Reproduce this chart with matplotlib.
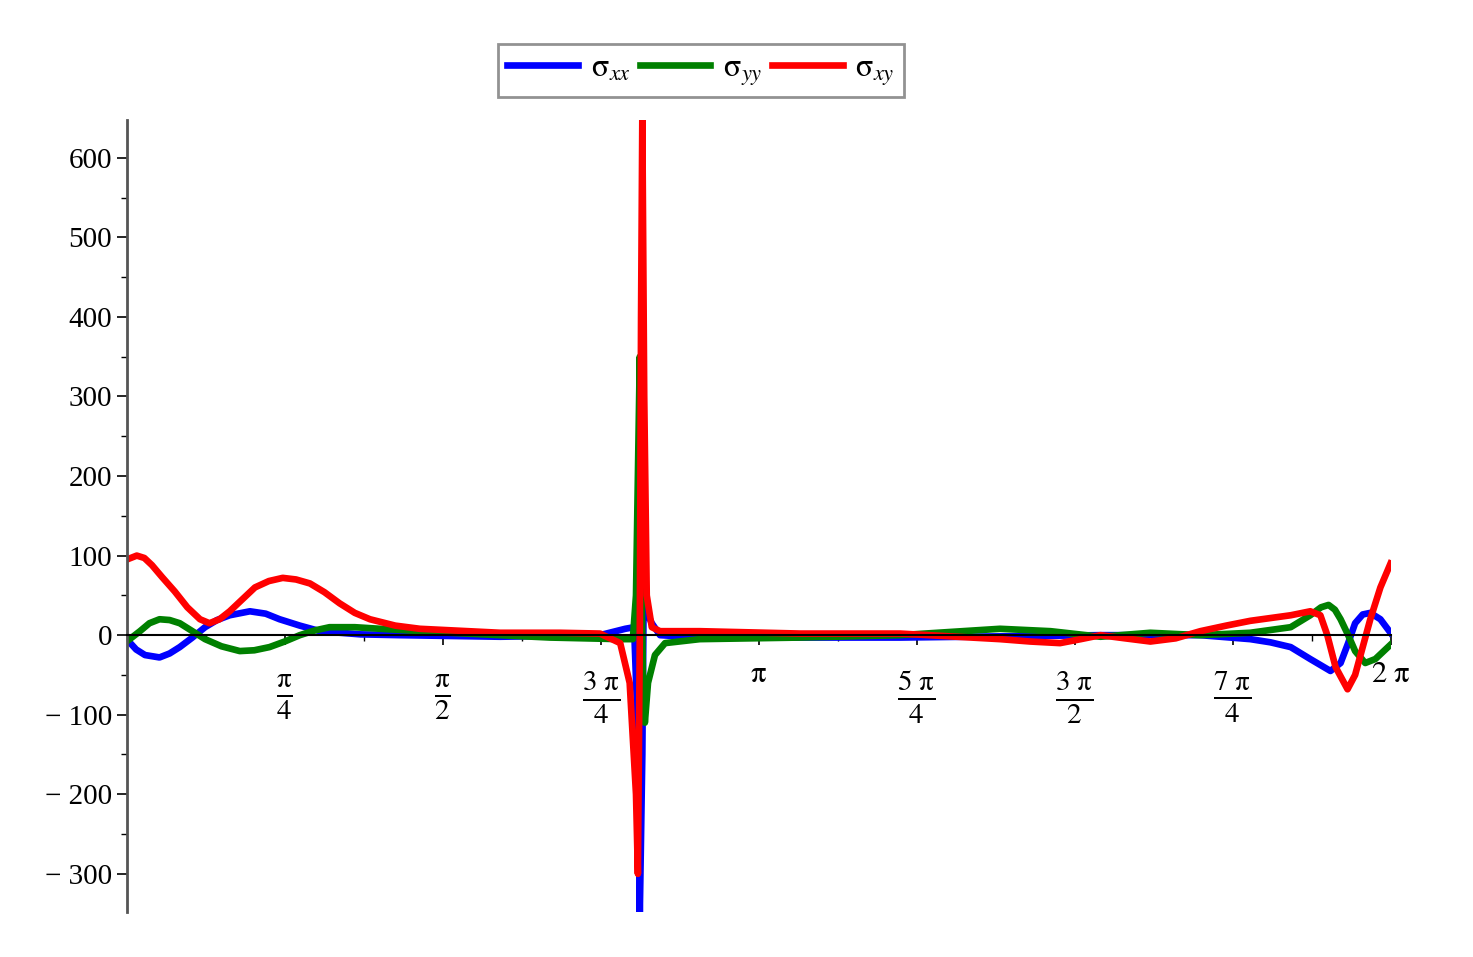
import numpy as np
import matplotlib
matplotlib.use("Agg")
import matplotlib.pyplot as plt
from matplotlib.lines import Line2D

plt.rcParams['font.family'] = ['Liberation Serif', 'DejaVu Serif']
plt.rcParams['mathtext.fontset'] = 'stix'

# theta / pi, value
red_t = [0, .016, .028, .040, .056, .076, .096, .116, .131, .147, .163, .183, .203, .225, .247, .268, .290, .313, .337, .361, .385, .425, .464, .591, .686, .749, .781, .796, .806, .809, .812, .814, .816, .819, .823, .831, .844, .907, 1.066, 1.224, 1.382, 1.430, 1.477, 1.510, 1.541, 1.580, 1.620, 1.660, 1.699, 1.740, 1.778, 1.842, 1.873, 1.889, 1.900, 1.913, 1.932, 1.944, 1.956, 1.968, 1.984, 2.0]
red_v = [95, 100, 97, 88, 73, 55, 35, 20, 15, 20, 30, 45, 60, 68, 72, 70, 65, 54, 40, 28, 20, 12, 8, 3, 3, 2, -10, -60, -200, -300, 0, 400, 650, 300, 50, 10, 5, 5, 2, 2, -5, -8, -10, -5, 0, -4, -8, -4, 5, 12, 18, 25, 30, 25, 0, -40, -68, -50, -15, 20, 60, 90]

blue_t = [0, .015, .029, .052, .068, .084, .104, .124, .143, .163, .195, .220, .242, .274, .306, .370, .432, .591, .749, .789, .803, .808, .812, .816, .818, .822, .831, .844, .907, 1.224, 1.541, 1.699, 1.778, 1.810, 1.842, 1.873, 1.905, 1.921, 1.933, 1.944, 1.956, 1.968, 1.984, 2.0]
blue_v = [-5, -18, -25, -28, -23, -15, -3, 10, 19, 25, 30, 27, 20, 12, 5, 1, 0, -2, 0, 8, 10, -100, -350, -150, 40, 30, 15, 0, -3, -3, 0, 0, -5, -9, -15, -30, -45, -35, -10, 15, 26, 28, 20, 3]

green_t = [0, .021, .036, .052, .068, .084, .104, .124, .150, .179, .202, .226, .250, .274, .298, .321, .361, .401, .511, .670, .781, .801, .806, .809, .812, .814, .817, .820, .825, .836, .852, .907, 1.066, 1.224, 1.382, 1.462, 1.541, 1.620, 1.699, 1.778, 1.842, 1.873, 1.890, 1.902, 1.912, 1.921, 1.933, 1.944, 1.960, 1.976, 2.0]
green_v = [-8, 5, 15, 20, 19, 15, 5, -5, -14, -20, -19, -15, -8, 0, 6, 10, 10, 8, 3, -3, -5, -5, 50, 200, 350, 100, -50, -110, -60, -25, -10, -5, -3, 0, 8, 5, -2, 3, 0, 3, 10, 25, 35, 38, 32, 20, 0, -20, -35, -30, -12]

xtick_pos = [0.25, 0.5, 0.75, 1.0, 1.25, 1.5, 1.75, 2.0]
xtick_lab = [r'$\frac{\mathrm{\pi}}{4}$', r'$\frac{\mathrm{\pi}}{2}$', r'$\frac{3\ \mathrm{\pi}}{4}$', r'$\mathrm{\pi}$',
             r'$\frac{5\ \mathrm{\pi}}{4}$', r'$\frac{3\ \mathrm{\pi}}{2}$', r'$\frac{7\ \mathrm{\pi}}{4}$', r'$2\ \mathrm{\pi}$']
yticks = [-300, -200, -100, 0, 100, 200, 300, 400, 500, 600]

fig = plt.figure(figsize=(14.73, 9.57), dpi=100)
ax = fig.add_axes([0.086, 0.047, 0.858, 0.828])
lw = 4.8
ax.plot(np.pi*np.array(blue_t), blue_v, color='#0000ff', lw=lw, solid_joinstyle='round')
ax.plot(np.pi*np.array(green_t), green_v, color='#008000', lw=lw, solid_joinstyle='round')
ax.plot(np.pi*np.array(red_t), red_v, color='#ff0000', lw=lw, solid_joinstyle='round')

ax.set_xlim(0, 2*np.pi)
ax.set_ylim(-348, 648)
for s in ['top', 'right']:
    ax.spines[s].set_visible(False)
ax.spines['bottom'].set_position(('data', 0))
ax.spines['left'].set_color('#555555')
ax.spines['left'].set_linewidth(2)
ax.spines['bottom'].set_linewidth(1.5)
ax.set_yticks(yticks)
ax.set_yticklabels([str(v).replace('-', '\u2212 ') for v in yticks], fontsize=21)
ax.set_yticks(np.arange(-300, 650, 50), minor=True)
ax.set_xticks(np.pi*np.array(xtick_pos))
ax.set_xticklabels([])
ax.set_xticks(np.pi*np.arange(0, 2.01, 0.125), minor=True)
ax.tick_params(axis='both', which='major', length=7, width=1.2)
ax.tick_params(axis='both', which='minor', length=4, width=1)
for p, l in zip(xtick_pos, xtick_lab):
    single = l in (r'$\mathrm{\pi}$', r'$2\ \mathrm{\pi}$')
    yy = -50 if single else -78
    ax.text(np.pi*p, yy, l, ha='center', va='center', fontsize=22 if single else 30)

handles = [Line2D([], [], color=c, lw=4.8) for c in ['#0000ff', '#008000', '#ff0000']]
labels = [r'$\mathrm{\sigma}_{xx}$', r'$\mathrm{\sigma}_{yy}$', r'$\mathrm{\sigma}_{xy}$']
leg = fig.legend(handles, labels, loc='center', bbox_to_anchor=(0.476, 0.926), ncol=3,
                 fontsize=23, frameon=True, fancybox=False, edgecolor='#777777',
                 handlelength=2.2, columnspacing=0.3, handletextpad=0.4, borderpad=0.3)
leg.get_frame().set_linewidth(2)
fig.savefig('out.png', dpi=100)
